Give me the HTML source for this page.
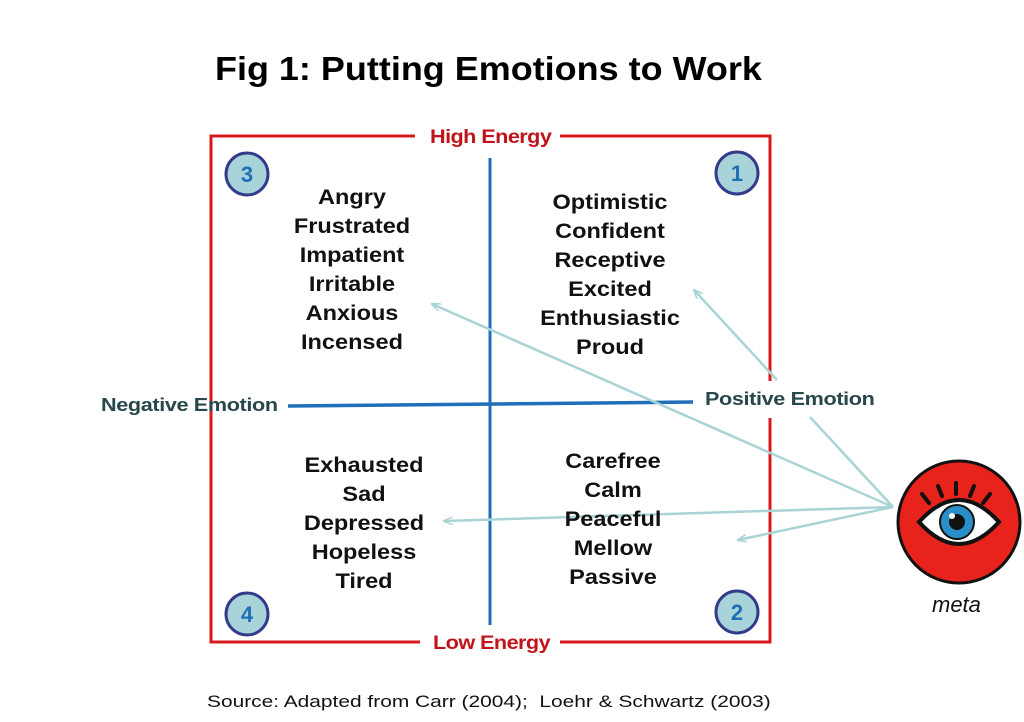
<!DOCTYPE html>
<html><head><style>
body{margin:0;width:1024px;height:722px;background:#fff;overflow:hidden;position:relative;font-family:"Liberation Sans",Arial,sans-serif}
.t{position:absolute;font-weight:bold;color:#111;font-size:21px;line-height:29px;text-align:center;transform:scaleX(1.12)}
.s{position:absolute;transform-origin:0 0;white-space:nowrap}
</style></head><body>
<svg width="1024" height="722" style="position:absolute;left:0;top:0">
<defs><marker id="a" markerWidth="10" markerHeight="8" refX="9" refY="4" orient="auto" markerUnits="userSpaceOnUse"><path d="M0,0 L10,4 L0,8" fill="none" stroke="#a9d4d6" stroke-width="1.5"/></marker></defs>
<g stroke="#d7191c" stroke-width="3" fill="none">
<path d="M415,136 H211 V642 H420"/>
<path d="M560,136 H770 V381"/>
<path d="M770,418 V642 H560"/>
</g>
<line x1="490" y1="158" x2="490" y2="625" stroke="#1f6fb8" stroke-width="3"/>
<line x1="288" y1="406" x2="693" y2="402" stroke="#1f6fb8" stroke-width="3.5"/>
<g stroke="#a9d4d6" stroke-width="2.5" fill="none" marker-end="url(#a)">
<line x1="893" y1="507" x2="432" y2="304"/>
<line x1="893" y1="507" x2="444" y2="521"/>
<line x1="893" y1="507" x2="738" y2="540"/>
<line x1="777" y1="380" x2="694" y2="290"/>
</g>
<line x1="810" y1="417" x2="893" y2="507" stroke="#a9d4d6" stroke-width="2.5"/>
<g fill="#a8d3d8" stroke="#343a8c" stroke-width="3">
<circle cx="247" cy="174" r="21"/><circle cx="737" cy="173" r="21"/>
<circle cx="247" cy="614" r="21"/><circle cx="737" cy="612" r="21"/>
</g>
<g font-family="Liberation Sans,Arial,sans-serif" font-weight="bold" font-size="22" fill="#1f6fb8" text-anchor="middle">
<text x="247" y="182">3</text><text x="737" y="181">1</text>
<text x="247" y="622">4</text><text x="737" y="620">2</text>
</g>
<circle cx="959" cy="522" r="61" fill="#e8231c" stroke="#111" stroke-width="3"/>
<g stroke="#111" stroke-width="4" stroke-linecap="round">
<line x1="929" y1="503" x2="922" y2="494"/><line x1="942" y1="496" x2="938" y2="486"/>
<line x1="956" y1="494" x2="956" y2="483"/><line x1="970" y1="496" x2="974" y2="486"/>
<line x1="983" y1="503" x2="990" y2="494"/>
</g>
<path d="M919,522 Q959,478 999,522 Q959,566 919,522Z" fill="#fff" stroke="#111" stroke-width="4"/>
<circle cx="957" cy="522" r="17" fill="#2a8fc8" stroke="#111" stroke-width="2"/>
<circle cx="957" cy="522" r="8" fill="#111"/>
<circle cx="952" cy="516" r="3" fill="#fff"/>
</svg>
<div class="s" style="left:215px;top:50px;font-weight:bold;font-size:33px;color:#000;transform:scaleX(1.09)">Fig 1: Putting Emotions to Work</div>
<div class="s" style="left:430px;top:127px;font-weight:bold;font-size:19px;color:#c0141a;letter-spacing:-0.5px;transform:scaleX(1.14)">High Energy</div>
<div class="s" style="left:433px;top:633px;font-weight:bold;font-size:19px;color:#c0141a;letter-spacing:-0.5px;transform:scaleX(1.14)">Low Energy</div>
<div class="s" style="left:101px;top:395px;font-weight:bold;font-size:18px;color:#27474a;letter-spacing:-0.3px;transform:scaleX(1.2)">Negative Emotion</div>
<div class="s" style="left:705px;top:389px;font-weight:bold;font-size:18px;color:#27474a;letter-spacing:-0.3px;transform:scaleX(1.2)">Positive Emotion</div>
<div class="t" style="left:272px;width:160px;top:183px">Angry<br>Frustrated<br>Impatient<br>Irritable<br>Anxious<br>Incensed</div>
<div class="t" style="left:530px;width:160px;top:188px">Optimistic<br>Confident<br>Receptive<br>Excited<br>Enthusiastic<br>Proud</div>
<div class="t" style="left:284px;width:160px;top:451px">Exhausted<br>Sad<br>Depressed<br>Hopeless<br>Tired</div>
<div class="t" style="left:533px;width:160px;top:447px">Carefree<br>Calm<br>Peaceful<br>Mellow<br>Passive</div>
<div style="position:absolute;left:932px;top:592px;font-style:italic;font-size:22px;color:#111">meta</div>
<div class="s" style="left:207px;top:692px;font-size:17px;color:#111;transform:scaleX(1.23)">Source: Adapted from Carr (2004);&nbsp; Loehr &amp; Schwartz (2003)</div>
</body></html>
